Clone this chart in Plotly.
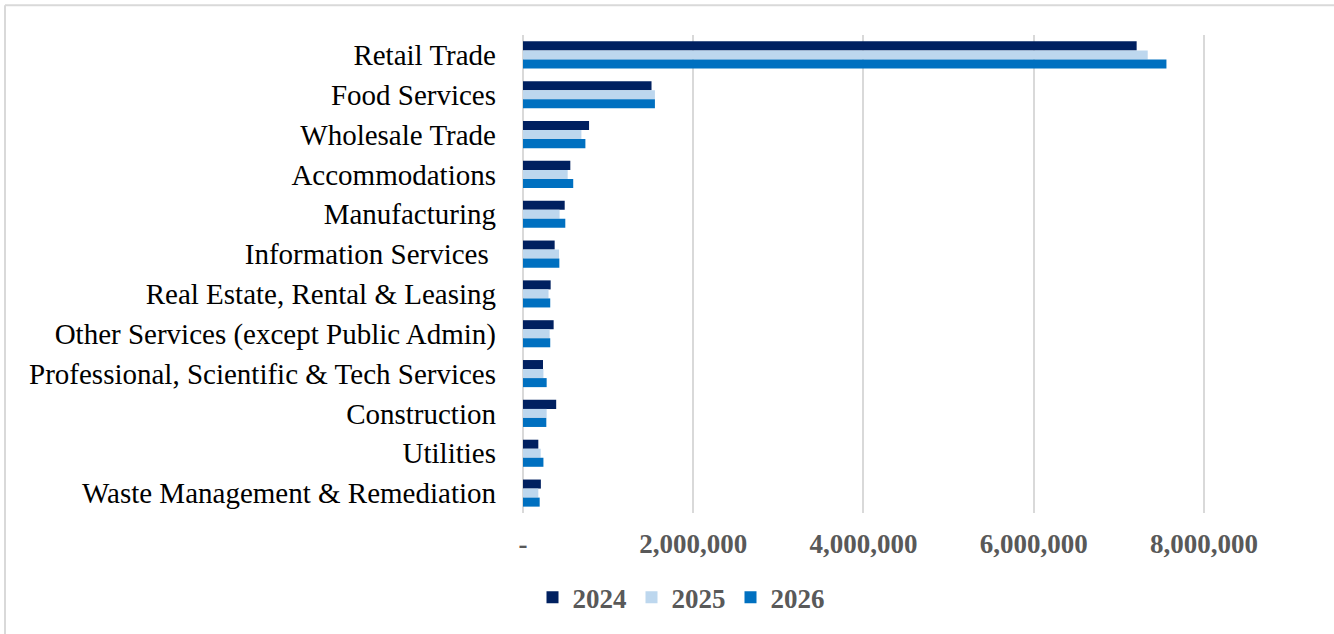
import plotly.graph_objects as go

categories = [
    "Retail Trade",
    "Food Services",
    "Wholesale Trade",
    "Accommodations",
    "Manufacturing",
    "Information Services\u00a0",
    "Real Estate, Rental & Leasing",
    "Other Services (except Public Admin)",
    "Professional, Scientific & Tech Services",
    "Construction",
    "Utilities",
    "Waste Management & Remediation",
]
v2024 = [7210000, 1510000, 776000, 556000, 490000, 372000, 325000, 360000, 235000, 390000, 180000, 210000]
v2025 = [7340000, 1550000, 686000, 525000, 430000, 423000, 300000, 313000, 240000, 278000, 208000, 180000]
v2026 = [7560000, 1550000, 733000, 590000, 497000, 427000, 320000, 320000, 278000, 274000, 240000, 196000]
years = ["2024", "2025", "2026"]
colors = ["#002060", "#BDD7EE", "#0070C0"]
tick_vals = [0, 2000000, 4000000, 6000000, 8000000]
tick_text = ["-", "2,000,000", "4,000,000", "6,000,000", "8,000,000"]

W, H = 1334, 634
L, R, T, B = 523, 1289, 35, 515
SERIF = "Liberation Serif, Times New Roman, serif"

fig = go.Figure()
for name, vals, c in zip(years, [v2024, v2025, v2026], colors):
    fig.add_trace(go.Bar(
        y=categories, x=vals, name=name, orientation="h",
        marker=dict(color=c, line=dict(width=0)),
    ))

def px_x(p):
    return (p - L) / (R - L)

def px_y(p):
    return (B - p) / (B - T)

fig.update_layout(
    width=W, height=H,
    margin=dict(l=L, r=W - R, t=T, b=H - B),
    paper_bgcolor="white", plot_bgcolor="white",
    barmode="group", bargap=0.32, bargroupgap=0,
    font=dict(family=SERIF, color="#000000"),
    showlegend=True,
    legend=dict(
        orientation="h", x=px_x(681), xanchor="center", y=px_y(600), yanchor="middle",
        font=dict(size=27, color="#595959", family=SERIF, weight="bold"),
        itemwidth=30, traceorder="normal", itemclick=False,
    ),
    xaxis=dict(
        range=[0, 9000000], tickvals=tick_vals, ticktext=tick_text,
        showgrid=True, gridcolor="#D9D9D9", gridwidth=2,
        zeroline=False, showline=False, ticks="",
        tickfont=dict(size=27, color="#595959", family=SERIF, weight="bold"),
        ticklabelstandoff=12,
    ),
    yaxis=dict(
        autorange="reversed", showgrid=False, zeroline=False, showline=False,
        ticks="", tickfont=dict(size=29, color="#000000", family=SERIF),
        ticklabelstandoff=26,
    ),
    shapes=[
        dict(type="line", xref="paper", yref="paper", x0=0, x1=0, y0=0, y1=1,
             line=dict(color="#D9D9D9", width=2), layer="below"),
        dict(type="line", xref="paper", yref="paper",
             x0=px_x(5), x1=px_x(5), y0=px_y(645), y1=px_y(5),
             line=dict(color="#D9D9D9", width=2), layer="below"),
        dict(type="line", xref="paper", yref="paper",
             x0=px_x(5), x1=px_x(1345), y0=px_y(5), y1=px_y(5),
             line=dict(color="#D9D9D9", width=2), layer="below"),
    ],
)

fig.write_html("out.html", config={"displayModeBar": False},
               post_script="document.body.style.margin='0';")
